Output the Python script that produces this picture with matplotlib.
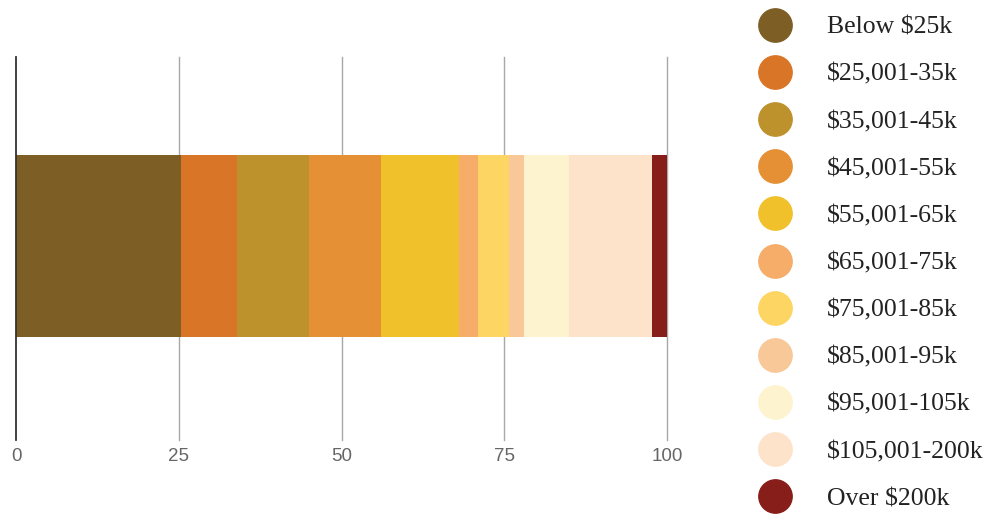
import matplotlib
matplotlib.use("Agg")
import matplotlib.pyplot as plt
from matplotlib.lines import Line2D

# Einkommensgruppen und Anteile (in %)
gruppen = ["Below $25k", "$25,001-35k", "$35,001-45k", "$45,001-55k",
           "$55,001-65k", "$65,001-75k", "$75,001-85k", "$85,001-95k",
           "$95,001-105k", "$105,001-200k", "Over $200k"]
anteile = [25.4, 8.5, 11.1, 11.1, 12.0, 2.9, 4.8, 2.3, 6.8, 12.8, 2.3]
farben = ["#7d5f26", "#d97527", "#bd922d", "#e59034", "#f0c12b",
          "#f5ad69", "#fdd562", "#f9c898", "#fef3cf", "#fce3ca", "#871e19"]
ticks = [0, 25, 50, 75, 100]

fig = plt.figure(figsize=(9.93, 5.16), dpi=100)
ax = fig.add_axes([16 / 993, 1 - 440 / 516, 651 / 993, 383 / 516])

links = 0
for wert, farbe in zip(anteile, farben):
    ax.barh(0, wert, left=links, height=0.475, color=farbe, zorder=2)
    links += wert

ax.set_xlim(0, 100)
ax.set_ylim(-0.507, 0.493)
ax.set_xticks(ticks)
ax.set_xticklabels([str(t) for t in ticks], color="#666666", fontsize=13.5,
                   family="Liberation Sans")
ax.tick_params(axis="x", length=0, pad=6)
ax.set_yticks([])
for t in ticks[1:]:
    ax.axvline(t, color="#a8a8a8", linewidth=1, zorder=1, clip_on=False)
for s in ["top", "right", "bottom"]:
    ax.spines[s].set_visible(False)
ax.spines["left"].set_color("#333333")
ax.spines["left"].set_linewidth(1.3)

griffe = [Line2D([], [], linestyle="none", marker="o", markersize=24,
                 markerfacecolor=f, markeredgecolor=f) for f in farben]
fig.legend(griffe, gruppen, loc="center left",
           bbox_to_anchor=(758 / 993, 1 - 263 / 516),
           frameon=False, prop={"family": "Liberation Serif", "size": 18.5},
           handlelength=1.3, handletextpad=1.37, labelspacing=0.94,
           borderaxespad=0, borderpad=0, labelcolor="#222222")

fig.savefig("out.png", dpi=100)
